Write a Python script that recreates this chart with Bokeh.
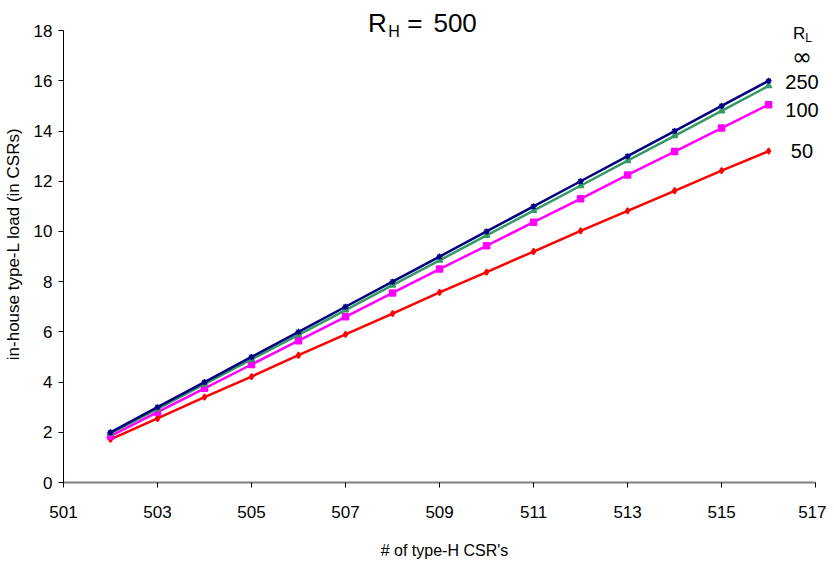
from bokeh.plotting import figure
from bokeh.models import Range1d, FixedTicker, Label
from bokeh.embed import file_html
from bokeh.resources import INLINE

x_vals = [502, 503, 504, 505, 506, 507, 508, 509, 510, 511, 512, 513, 514, 515, 516]
rl_inf = [2, 3, 4, 5, 6, 7, 8, 9, 10, 11, 12, 13, 14, 15, 16]
rl_250 = [1.96, 2.93, 3.92, 4.90, 5.88, 6.87, 7.86, 8.85, 9.84, 10.83, 11.82, 12.82, 13.81, 14.80, 15.80]
rl_100 = [1.85, 2.80, 3.75, 4.70, 5.65, 6.60, 7.55, 8.50, 9.43, 10.37, 11.30, 12.25, 13.18, 14.12, 15.05]
rl_50 = [1.72, 2.55, 3.40, 4.22, 5.07, 5.90, 6.73, 7.57, 8.38, 9.20, 10.02, 10.82, 11.62, 12.42, 13.20]
x_ticks = [501, 503, 505, 507, 509, 511, 513, 515, 517]
y_ticks = [0, 2, 4, 6, 8, 10, 12, 14, 16, 18]
legend_labels = ["∞", "250", "100", "50"]

FONT = "Liberation Sans"

# frame extends slightly beyond the axes (axis bounds stop at 517 / 18) to leave room for texts
p = figure(width=826, height=561, output_backend="svg", toolbar_location=None,
           x_range=Range1d(501, 517.21), y_range=Range1d(0, 19),
           min_border_left=62, min_border_right=1, min_border_top=5, min_border_bottom=74)
p.outline_line_color = None
p.xgrid.visible = False
p.ygrid.visible = False

p.xaxis.ticker = FixedTicker(ticks=x_ticks)
p.yaxis.ticker = FixedTicker(ticks=y_ticks)
p.xaxis.bounds = (501, 517)
p.yaxis.bounds = (0, 18)
for ax in (p.xaxis, p.yaxis):
    ax.major_label_text_font = FONT
    ax.major_label_text_font_size = "17px"
    ax.major_label_text_color = "black"
    ax.axis_label_text_font = FONT
    ax.axis_label_text_font_style = "normal"
    ax.axis_label_text_color = "black"
    ax.minor_tick_line_color = None
    ax.major_tick_in = 0
    ax.major_tick_out = 5
    ax.major_tick_line_color = "black"
p.xaxis.axis_label = "# of type-H CSR's"
p.yaxis.axis_label = "in-house type-L load (in CSRs)"
p.xaxis.axis_label_text_font_size = "16px"
p.yaxis.axis_label_text_font_size = "17px"
p.xaxis.axis_line_color = "#808080"
p.xaxis.axis_line_width = 2
p.yaxis.axis_line_color = "black"
p.xaxis.major_label_standoff = 18
p.xaxis.axis_label_standoff = 21
p.yaxis.major_label_standoff = 6
p.yaxis.axis_label_standoff = 8

series = [
    (rl_50, "#FF0000", "diamond"),
    (rl_100, "#FF00FF", "square"),
    (rl_250, "#339966", "triangle"),
    (rl_inf, "#000080", "asterisk"),
]
for ys, col, mk in series:
    p.line(x_vals, ys, line_color=col, line_width=2.5)
    p.scatter(x_vals, ys, marker=mk, size=6, line_color=col, fill_color=col, line_width=1.5)

def lab(x, y, t, size, align="left", baseline="alphabetic", font=FONT):
    p.add_layout(Label(x=x, y=y, text=t, text_font=font, text_font_size=size,
                       text_align=align, text_baseline=baseline, text_color="black"))

# title R_H = 500
lab(507.48, 18.29, "R", "26px")
lab(507.91, 17.97, "H", "16px")
lab(508.31, 18.29, "=", "26px")
lab(508.87, 18.29, "500", "26px")

# legend labels R_L
lab(516.52, 17.90, "R", "17px")
lab(516.78, 17.70, "L", "12px")
lab(516.71, 16.95, legend_labels[0], "24px", align="center", baseline="middle", font="DejaVu Sans")
lab_pos = [(516.71, 15.94), (516.71, 14.85), (516.71, 13.22)]
for (lx, ly), t in zip(lab_pos, legend_labels[1:]):
    lab(lx, ly, t, "20px", align="center")

open("out.html", "w").write(file_html(p, INLINE))
